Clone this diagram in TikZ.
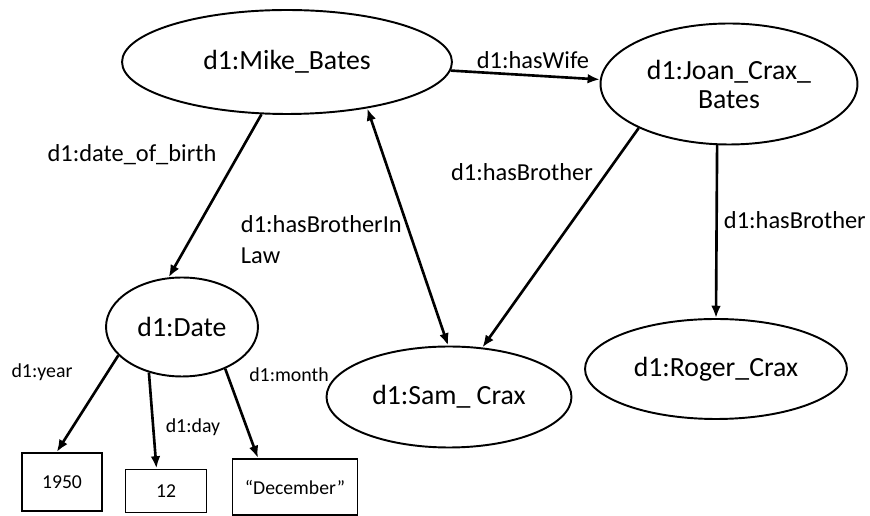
\documentclass[tikz,border=0pt]{standalone}
\usepackage{fontspec}
\setmainfont{Carlito}
\usetikzlibrary{arrows.meta,shapes.geometric,positioning}

\begin{document}
\begin{tikzpicture}[x=0.02cm, y=-0.02cm, >={Latex[length=7pt,width=5.5pt]}, line width=1.1pt,
  res/.style={ellipse, draw, inner sep=0pt, align=center, font=\fontsize{15.8}{16.5}\selectfont},
  lit/.style={rectangle, draw, inner sep=0pt, font=\fontsize{11.2}{13}\selectfont},
  prop/.style={inner sep=0pt, align=left, font=\fontsize{13.9}{17.6}\selectfont},
  sprop/.style={inner sep=0pt, font=\fontsize{11.3}{13}\selectfont},
  rel/.style={->, line width=1.5pt}]
\useasboundingbox (0,0) rectangle (870,516);
% resources
\node[res, minimum width=6.6cm, minimum height=2.08cm] (mike) at (287,62) {d1:Mike\_Bates};
\node[res, minimum width=5.14cm, minimum height=2.42cm] (joan) at (729,84) {d1:Joan\_Crax\_\\Bates};
\node[res, minimum width=4.9cm, minimum height=2.02cm] (sam) at (449,397) {d1:Sam\_ Crax};
\node[res, minimum width=5.24cm, minimum height=2cm] (roger) at (716,369) {d1:Roger\_Crax};
\node[res, minimum width=3.04cm, minimum height=1.98cm] (date) at (182,327) {d1:Date};
% literals
\node[lit, minimum width=1.6cm, minimum height=1.16cm] (year) at (62,482) {1950};
\node[lit, minimum width=1.62cm, minimum height=0.86cm] (day) at (166,491) {12};
\node[lit, minimum width=2.5cm, minimum height=1.12cm] (month) at (295,487) {“December”};
% properties
\draw[rel] (mike.-3) to (joan.178);
\draw[rel] (mike.244) to (date.105);
\draw[rel, <->] (mike.-30) to (sam.91);
\draw[rel] (joan.206) to (sam.56);
\draw[rel] (joan.259) to (roger.90);
\draw[rel] (date.204) to (year.100);
\draw[rel] (date.234) to (day.113);
\draw[rel] (date.-44) to (month.142);
% labels
\node[prop] (lwife) at (533,60) {d1:hasWife};
\node[prop] (lbirth) at (132,155) {d1:date\_of\_birth};
\node[prop, anchor=west] (linlaw) at (240,240) {d1:hasBrotherIn\\Law};
\node[prop] (lbro) at (522,172) {d1:hasBrother};
\node[prop, anchor=west] (lbro2) at (723,220) {d1:hasBrother};
\node[sprop] (lyear) at (42,372) {d1:year};
\node[sprop] (lmonth) at (289,375) {d1:month};
\node[sprop] (lday) at (193,427) {d1:day};
\end{tikzpicture}
\end{document}
